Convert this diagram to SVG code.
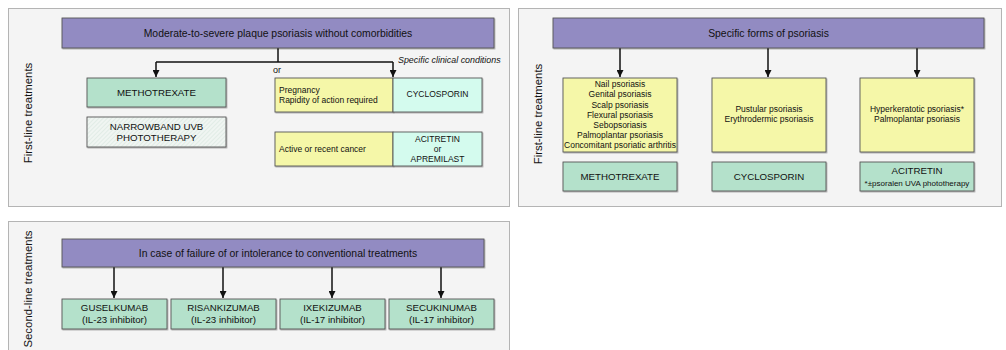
<svg xmlns="http://www.w3.org/2000/svg" width="1006" height="350" viewBox="0 0 1006 350">
<defs>
<marker id="arr" viewBox="0 0 10 10" refX="10" refY="5" markerWidth="7" markerHeight="7" markerUnits="userSpaceOnUse" orient="auto">
<path d="M0,0 L10,5 L0,10 z" fill="#111"/>
</marker>
<pattern id="hatch" width="3" height="3" patternUnits="userSpaceOnUse" patternTransform="rotate(45)">
<rect width="3" height="3" fill="#f0f5f2"/>
<line x1="0" y1="0" x2="0" y2="3" stroke="#d3e4da" stroke-width="1"/>
</pattern>
<filter id="sh" x="-5%" y="-10%" width="110%" height="130%">
<feDropShadow dx="0.8" dy="1" stdDeviation="0.7" flood-color="#000" flood-opacity="0.3"/>
</filter>
</defs>
<style>
text{font-family:"Liberation Sans",Arial,sans-serif;fill:#111}
.panel{fill:#f4f4f4;stroke:#b4b4b4;stroke-width:1}
.box{stroke:#555;stroke-width:0.9;filter:url(#sh)}
.purple{fill:#928bc2}
.green{fill:#b4e1cb}
.yellow{fill:#f5f7a8}
.cyan{fill:#d4fbee}
.hatched{fill:url(#hatch)}
.h{font-size:10.4px;text-anchor:middle}
.g{font-size:9.7px;text-anchor:middle}
.s{font-size:8.5px}
.sc{font-size:8.5px;text-anchor:middle}
.side{font-size:11.4px;text-anchor:middle}
.conn{fill:none;stroke:#111;stroke-width:1.5}
</style>

<rect class="panel" x="8.5" y="8.5" width="501" height="198"/>
<rect class="panel" x="518.5" y="8.5" width="483" height="198"/>
<rect class="panel" x="8.5" y="221.5" width="501" height="135"/>

<text class="side" transform="translate(32,113) rotate(-90)">First-line treatments</text>
<text class="side" transform="translate(542,114) rotate(-90)">First-line treatments</text>
<text class="side" transform="translate(32,289) rotate(-90)">Second-line treatments</text>

<g id="connectors">
<path class="conn" d="M278,48 V62"/>
<path class="conn" d="M156,62 H393"/>
<path class="conn" d="M156,62 V77" marker-end="url(#arr)"/>
<path class="conn" d="M393,62 V77" marker-end="url(#arr)"/>
<path class="conn" d="M620,48 V77" marker-end="url(#arr)"/>
<path class="conn" d="M768,48 V77" marker-end="url(#arr)"/>
<path class="conn" d="M917,48 V77" marker-end="url(#arr)"/>
<path class="conn" d="M114,267 V298" marker-end="url(#arr)"/>
<path class="conn" d="M223,267 V298" marker-end="url(#arr)"/>
<path class="conn" d="M332,267 V298" marker-end="url(#arr)"/>
<path class="conn" d="M441,267 V298" marker-end="url(#arr)"/>
</g>
<text x="277" y="73" font-size="9px" text-anchor="middle">or</text>
<text x="398" y="63" font-size="8.9px" font-style="italic">Specific clinical conditions</text>

<g id="n-moderate">
<rect class="box purple" x="62" y="18" width="432" height="30"/>
<text class="h" x="278" y="36.7">Moderate-to-severe plaque psoriasis without comorbidities</text>
</g>
<g id="n-methotrexate1">
<rect class="box green" x="87" y="78" width="139" height="29"/>
<text class="g" x="156.5" y="95.5">METHOTREXATE</text>
</g>
<g id="n-narrowband">
<rect class="box hatched" x="87" y="117" width="139" height="30"/>
<text class="g" x="156.5" y="129.5">NARROWBAND UVB</text>
<text class="g" x="156.5" y="140.5">PHOTOTHERAPY</text>
</g>
<g id="n-pregnancy">
<rect class="box yellow" x="275" y="78" width="118" height="34"/>
<text class="s" x="279" y="93">Pregnancy</text>
<text class="s" x="279" y="103">Rapidity of action required</text>
</g>
<g id="n-cyclosporin1">
<rect class="box cyan" x="393" y="78" width="89" height="34"/>
<text class="sc" x="437.5" y="97">CYCLOSPORIN</text>
</g>
<g id="n-cancer">
<rect class="box yellow" x="275" y="132" width="118" height="34"/>
<text class="s" x="279" y="152">Active or recent cancer</text>
</g>
<g id="n-acitretin1">
<rect class="box cyan" x="393" y="132" width="89" height="34"/>
<text class="sc" x="437.5" y="142">ACITRETIN</text>
<text class="sc" x="437.5" y="152">or</text>
<text class="sc" x="437.5" y="162">APREMILAST</text>
</g>

<g id="n-specific">
<rect class="box purple" x="553" y="18" width="431" height="30"/>
<text class="h" x="768.5" y="36.7">Specific forms of psoriasis</text>
</g>
<g id="n-forms1">
<rect class="box yellow" x="563" y="78" width="114" height="74"/>
<text class="sc" x="620" y="87.3">Nail psoriasis</text>
<text class="sc" x="620" y="97.4">Genital psoriasis</text>
<text class="sc" x="620" y="107.5">Scalp psoriasis</text>
<text class="sc" x="620" y="117.6">Flexural psoriasis</text>
<text class="sc" x="620" y="127.7">Sebopsoriasis</text>
<text class="sc" x="620" y="137.8">Palmoplantar psoriasis</text>
<text class="sc" x="620" y="147.9">Concomitant psoriatic arthritis</text>
</g>
<g id="n-forms2">
<rect class="box yellow" x="712" y="78" width="114" height="74"/>
<text class="sc" x="769" y="112">Pustular psoriasis</text>
<text class="sc" x="769" y="122">Erythrodermic psoriasis</text>
</g>
<g id="n-forms3">
<rect class="box yellow" x="860" y="78" width="114" height="74"/>
<text class="sc" x="917" y="112">Hyperkeratotic psoriasis*</text>
<text class="sc" x="917" y="122">Palmoplantar psoriasis</text>
</g>
<g id="n-methotrexate2">
<rect class="box green" x="563" y="162" width="114" height="29"/>
<text class="g" x="620" y="179.5">METHOTREXATE</text>
</g>
<g id="n-cyclosporin2">
<rect class="box green" x="712" y="162" width="114" height="29"/>
<text class="g" x="769" y="179.5">CYCLOSPORIN</text>
</g>
<g id="n-acitretin2">
<rect class="box green" x="860" y="162" width="114" height="29"/>
<text class="g" x="917" y="173.5">ACITRETIN</text>
<text x="917" y="186" font-size="8px" text-anchor="middle">*±psoralen UVA phototherapy</text>
</g>

<g id="n-failure">
<rect class="box purple" x="62" y="239" width="422" height="28"/>
<text class="h" x="278" y="256.7">In case of failure of or intolerance to conventional treatments</text>
</g>
<g id="n-guselkumab">
<rect class="box green" x="62" y="299" width="105" height="30"/>
<text class="g" x="114.5" y="310.5">GUSELKUMAB</text>
<text class="g" x="114.5" y="322.5">(IL-23 inhibitor)</text>
</g>
<g id="n-risankizumab">
<rect class="box green" x="171" y="299" width="105" height="30"/>
<text class="g" x="223.5" y="310.5">RISANKIZUMAB</text>
<text class="g" x="223.5" y="322.5">(IL-23 inhibitor)</text>
</g>
<g id="n-ixekizumab">
<rect class="box green" x="280" y="299" width="105" height="30"/>
<text class="g" x="332.5" y="310.5">IXEKIZUMAB</text>
<text class="g" x="332.5" y="322.5">(IL-17 inhibitor)</text>
</g>
<g id="n-secukinumab">
<rect class="box green" x="389" y="299" width="105" height="30"/>
<text class="g" x="441.5" y="310.5">SECUKINUMAB</text>
<text class="g" x="441.5" y="322.5">(IL-17 inhibitor)</text>
</g>
</svg>
